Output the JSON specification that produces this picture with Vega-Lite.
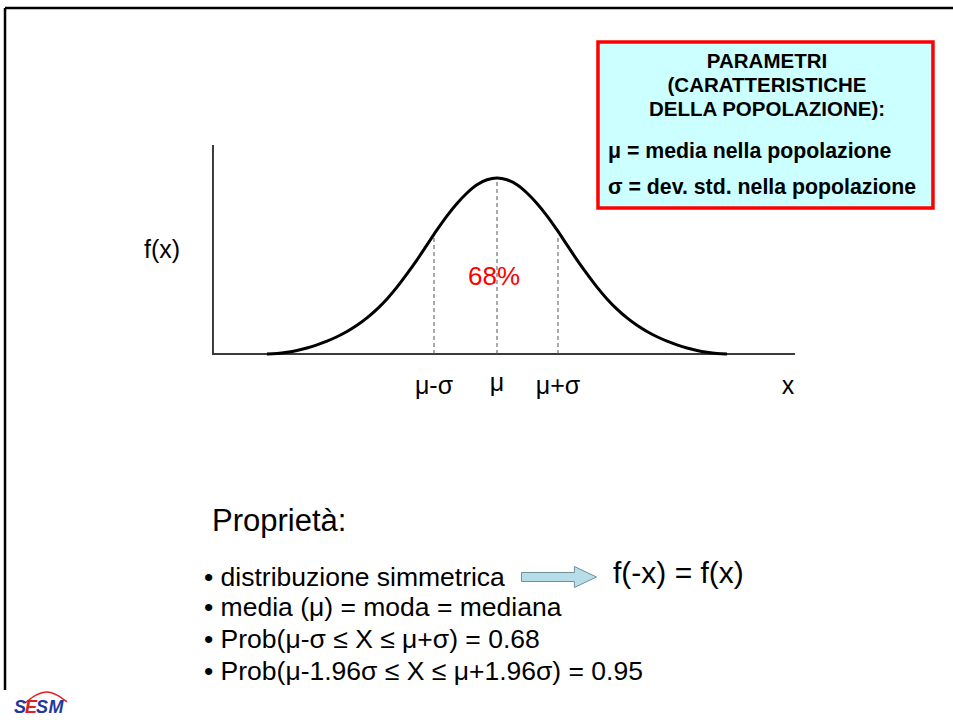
{
  "$schema": "https://vega.github.io/schema/vega-lite/v6.json",
  "width": 953,
  "height": 720,
  "autosize": {"type": "none"},
  "padding": 0,
  "background": "white",
  "config": {"view": {"stroke": null}, "text": {"font": "Liberation Sans"}},
  "encoding": {
    "x": {"field": "x", "type": "quantitative", "scale": {"domain": [-8.016, 7.355], "nice": false, "zero": false}, "axis": null},
    "y": {"field": "y", "type": "quantitative", "scale": {"domain": [-2.0795, 2.0114], "nice": false, "zero": false}, "axis": null}
  },
  "layer": [
    {
      "data": {"values": [
        {"seg": "top", "i": 0, "x": -7.935, "y": 1.966},
        {"seg": "top", "i": 1, "x": 7.4, "y": 1.966},
        {"seg": "left", "i": 0, "x": -7.935, "y": 1.966},
        {"seg": "left", "i": 1, "x": -7.935, "y": -1.909}
      ]},
      "mark": {"type": "line", "color": "black", "strokeWidth": 2.5},
      "encoding": {"detail": {"field": "seg"}, "order": {"field": "i"}}
    },
    {
      "data": {"values": [
        {"i": 0, "x": -4.581, "y": 1.1875},
        {"i": 1, "x": -4.581, "y": 0},
        {"i": 2, "x": 4.806, "y": 0}
      ]},
      "mark": {"type": "line", "color": "#3a3a3a", "strokeWidth": 2},
      "encoding": {"order": {"field": "i"}}
    },
    {
      "data": {"values": [
        {"x": -1.016, "y": 0, "y2": 0.66},
        {"x": 0, "y": 0, "y2": 0.99},
        {"x": 0.984, "y": 0, "y2": 0.66}
      ]},
      "mark": {"type": "rule", "color": "#555555", "strokeWidth": 1, "strokeDash": [4, 3]},
      "encoding": {"y2": {"field": "y2"}}
    },
    {
      "data": {"values": [
        {"x": -3.71, "y": 0}, {"x": -3.548, "y": 0.003},
        {"x": -3.387, "y": 0.01}, {"x": -3.226, "y": 0.02}, {"x": -3.065, "y": 0.034},
        {"x": -2.903, "y": 0.052}, {"x": -2.742, "y": 0.073}, {"x": -2.581, "y": 0.098},
        {"x": -2.419, "y": 0.128}, {"x": -2.258, "y": 0.163}, {"x": -2.097, "y": 0.205},
        {"x": -1.935, "y": 0.255}, {"x": -1.774, "y": 0.313}, {"x": -1.613, "y": 0.38},
        {"x": -1.452, "y": 0.455}, {"x": -1.29, "y": 0.535}, {"x": -1.129, "y": 0.62},
        {"x": -0.968, "y": 0.705}, {"x": -0.806, "y": 0.785}, {"x": -0.645, "y": 0.855},
        {"x": -0.484, "y": 0.915}, {"x": -0.323, "y": 0.962}, {"x": -0.161, "y": 0.99},
        {"x": 0, "y": 1.0},
        {"x": 0.161, "y": 0.99}, {"x": 0.323, "y": 0.962}, {"x": 0.484, "y": 0.915},
        {"x": 0.645, "y": 0.855}, {"x": 0.806, "y": 0.785}, {"x": 0.968, "y": 0.705},
        {"x": 1.129, "y": 0.62}, {"x": 1.29, "y": 0.535}, {"x": 1.452, "y": 0.455},
        {"x": 1.613, "y": 0.38}, {"x": 1.774, "y": 0.313}, {"x": 1.935, "y": 0.255},
        {"x": 2.097, "y": 0.205}, {"x": 2.258, "y": 0.163}, {"x": 2.419, "y": 0.128},
        {"x": 2.581, "y": 0.098}, {"x": 2.742, "y": 0.073}, {"x": 2.903, "y": 0.052},
        {"x": 3.065, "y": 0.034}, {"x": 3.226, "y": 0.02}, {"x": 3.387, "y": 0.01},
        {"x": 3.548, "y": 0.003}, {"x": 3.71, "y": 0}
      ]},
      "mark": {"type": "line", "color": "black", "strokeWidth": 3, "interpolate": "monotone"}
    },
    {
      "data": {"values": [{"x": 1.629, "x2": 7.032, "y": 1.773, "y2": 0.83}]},
      "mark": {"type": "rect", "fill": "#ccffff", "stroke": "#ff0000", "strokeWidth": 3.5},
      "encoding": {"x2": {"field": "x2"}, "y2": {"field": "y2"}}
    },
    {
      "data": {"values": [
        {"t": "PARAMETRI", "x": 4.355, "y": 1.659},
        {"t": "(CARATTERISTICHE", "x": 4.355, "y": 1.523},
        {"t": "DELLA POPOLAZIONE):", "x": 4.355, "y": 1.386}
      ]},
      "mark": {"type": "text", "fontSize": 20.5, "fontWeight": "bold", "align": "center", "baseline": "middle", "color": "black"},
      "encoding": {"text": {"field": "t"}}
    },
    {
      "data": {"values": [
        {"t": "μ = media nella popolazione", "x": 1.79, "y": 1.148},
        {"t": "σ = dev. std. nella popolazione", "x": 1.79, "y": 0.943}
      ]},
      "mark": {"type": "text", "fontSize": 21.3, "fontWeight": "bold", "align": "left", "baseline": "middle", "color": "black"},
      "encoding": {"text": {"field": "t"}}
    },
    {
      "data": {"values": [
        {"t": "f(x)", "x": -5.403, "y": 0.591},
        {"t": "x", "x": 4.694, "y": -0.182},
        {"t": "μ-σ", "x": -1.016, "y": -0.182},
        {"t": "μ", "x": 0, "y": -0.165},
        {"t": "μ+σ", "x": 0.984, "y": -0.182}
      ]},
      "mark": {"type": "text", "fontSize": 25, "align": "center", "baseline": "middle", "color": "black"},
      "encoding": {"text": {"field": "t"}}
    },
    {
      "data": {"values": [{"t": "68%", "x": -0.048, "y": 0.4375}]},
      "mark": {"type": "text", "fontSize": 26, "align": "center", "baseline": "middle", "color": "#ff0000"},
      "encoding": {"text": {"field": "t"}}
    },
    {
      "data": {"values": [{"t": "Proprietà:", "x": -4.597, "y": -0.955}]},
      "mark": {"type": "text", "fontSize": 31, "align": "left", "baseline": "middle", "color": "black"},
      "encoding": {"text": {"field": "t"}}
    },
    {
      "data": {"values": [
        {"t": "• distribuzione simmetrica", "x": -4.726, "y": -1.273},
        {"t": "• media (μ) = moda = mediana", "x": -4.726, "y": -1.443},
        {"t": "• Prob(μ-σ ≤ X ≤ μ+σ) = 0.68", "x": -4.726, "y": -1.625},
        {"t": "• Prob(μ-1.96σ ≤ X ≤ μ+1.96σ) = 0.95", "x": -4.726, "y": -1.807}
      ]},
      "mark": {"type": "text", "fontSize": 26.5, "align": "left", "baseline": "middle", "color": "black"},
      "encoding": {"text": {"field": "t"}}
    },
    {
      "data": {"values": [{"t": "f(-x) = f(x)", "x": 1.871, "y": -1.25}]},
      "mark": {"type": "text", "fontSize": 30, "align": "left", "baseline": "middle", "color": "black"},
      "encoding": {"text": {"field": "t"}}
    },
    {
      "data": {"values": [{"x": 1.0, "y": -1.267}]},
      "mark": {"type": "point", "shape": "M -1 -0.12 L 0.41 -0.12 L 0.41 -0.28 L 1 0 L 0.41 0.28 L 0.41 0.12 L -1 0.12 Z", "size": 5625, "filled": true, "fill": "#b7dde8", "stroke": "#6f8f99", "strokeWidth": 1, "opacity": 1}
    },
    {
      "data": {"values": [
        {"x": -7.613, "y": -1.983}, {"x": -7.435, "y": -1.938}, {"x": -7.258, "y": -1.92},
        {"x": -7.097, "y": -1.938}, {"x": -6.935, "y": -1.977}
      ]},
      "mark": {"type": "line", "color": "#e02020", "strokeWidth": 1.5, "interpolate": "monotone"}
    },
    {
      "data": {"values": [
        {"t": "S", "x": -7.694, "y": -2.011},
        {"t": "S", "x": -7.339, "y": -2.011},
        {"t": "M", "x": -7.113, "y": -2.011}
      ]},
      "mark": {"type": "text", "fontSize": 18, "fontWeight": "bold", "fontStyle": "italic", "align": "center", "baseline": "middle", "color": "#1f3a9a"},
      "encoding": {"text": {"field": "t"}}
    },
    {
      "data": {"values": [{"t": "E", "x": -7.516, "y": -2.011}]},
      "mark": {"type": "text", "fontSize": 18, "fontWeight": "bold", "fontStyle": "italic", "align": "center", "baseline": "middle", "color": "#e02020"},
      "encoding": {"text": {"field": "t"}}
    }
  ]
}
